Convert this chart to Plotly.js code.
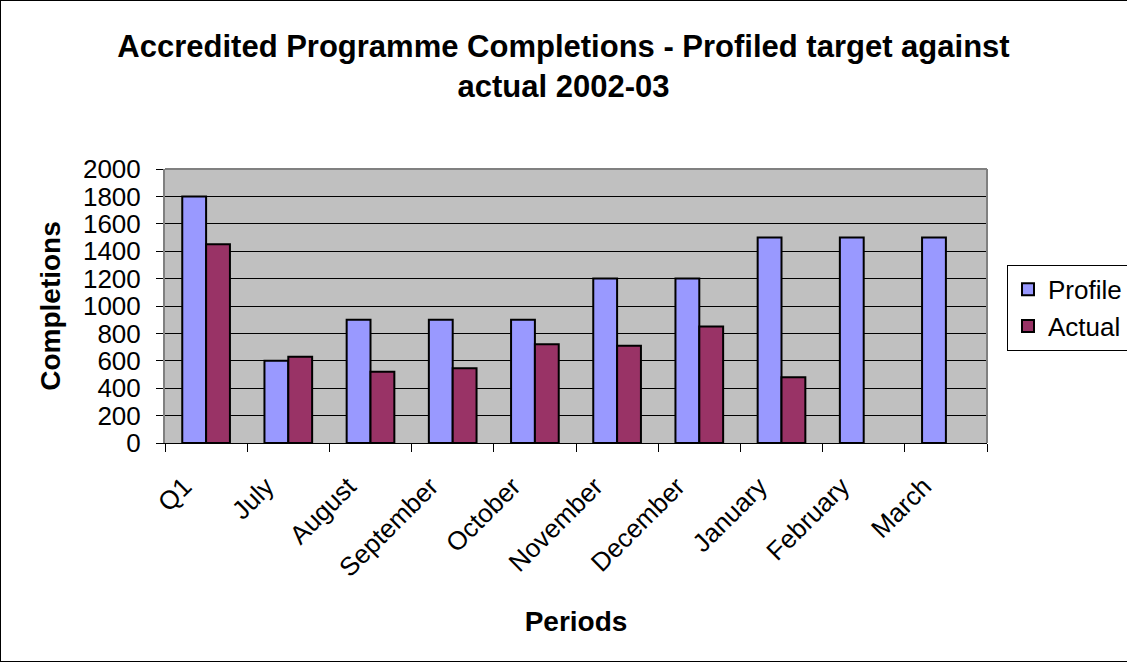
<!DOCTYPE html>
<html>
<head>
<meta charset="utf-8">
<script src="https://cdn.plot.ly/plotly-3.0.1.min.js"></script>
<style>
html,body{margin:0;padding:0;background:#fff;}
#wrap{position:relative;width:1127px;height:663px;overflow:hidden;}
#chart{width:1127px;height:663px;}
#frame{position:absolute;left:0;top:0;width:1140px;height:660px;border:1px solid #000;pointer-events:none;}
</style>
</head>
<body>
<div id="wrap"><div id="chart"></div><div id="frame"></div></div>
<script>
const categories = ["Q1","July","August","September","October","November","December","January","February","March"];
const profile = [1800,600,900,900,900,1200,1200,1500,1500,1500];
const actual = [1450,630,520,545,720,710,850,480,null,null];

const font = "Liberation Sans, Arial, sans-serif";
const traces = [
  {type:'bar', name:'Profile', x:categories, y:profile,
   marker:{color:'#9999FF', line:{color:'#000', width:2}}},
  {type:'bar', name:'Actual', x:categories, y:actual,
   marker:{color:'#993366', line:{color:'#000', width:2}}}
];
const layout = {
  width:1127, height:663,
  paper_bgcolor:'#fff', plot_bgcolor:'#C0C0C0',
  margin:{l:165, r:140, t:169, b:220, autoexpand:false},
  barmode:'group', bargap:0.42, bargroupgap:0,
  font:{family:font, color:'#000'},
  title:{text:'<b>Accredited Programme Completions - Profiled target against<br>actual 2002-03</b>',
         font:{size:31, family:font}, x:0.5, xanchor:'center', xref:'container',
         y:1-57/663, yanchor:'top', yref:'container'},
  xaxis:{title:{text:'<b>Periods</b>', font:{size:28}, standoff:29},
         tickangle:-45, tickfont:{size:26}, ticks:'outside', tickson:'boundaries',
         ticklen:8, tickcolor:'#000', showline:true, linecolor:'#000', linewidth:1,
         ticklabelstandoff:17, ticklabelshift:-22,
         mirror:false, showgrid:false, automargin:false},
  yaxis:{title:{text:'<b>Completions</b>', font:{size:28}, standoff:14},
         range:[0,2000], dtick:200, tickfont:{size:26}, ticks:'outside', ticklen:7,
         ticklabelstandoff:10, automargin:false,
         tickcolor:'#000', showline:true, linecolor:'#808080', linewidth:2,
         gridcolor:'#000', gridwidth:1, zeroline:false},
  legend:{x:1007/1127, xref:'container', xanchor:'left', y:0.65, yanchor:'top', bgcolor:'#fff',
          bordercolor:'#000', borderwidth:1, font:{size:26}, tracegroupgap:0,
          itemwidth:30},
  shapes:[
    {type:'line', xref:'paper', yref:'paper', x0:0, x1:1, y0:1, y1:1, line:{color:'#808080', width:2}},
    {type:'line', xref:'paper', yref:'paper', x0:1, x1:1, y0:0, y1:1, line:{color:'#808080', width:2}}
  ],
  showlegend:true
};
Plotly.newPlot('chart', traces, layout, {displayModeBar:false, staticPlot:true});
</script>
</body>
</html>
